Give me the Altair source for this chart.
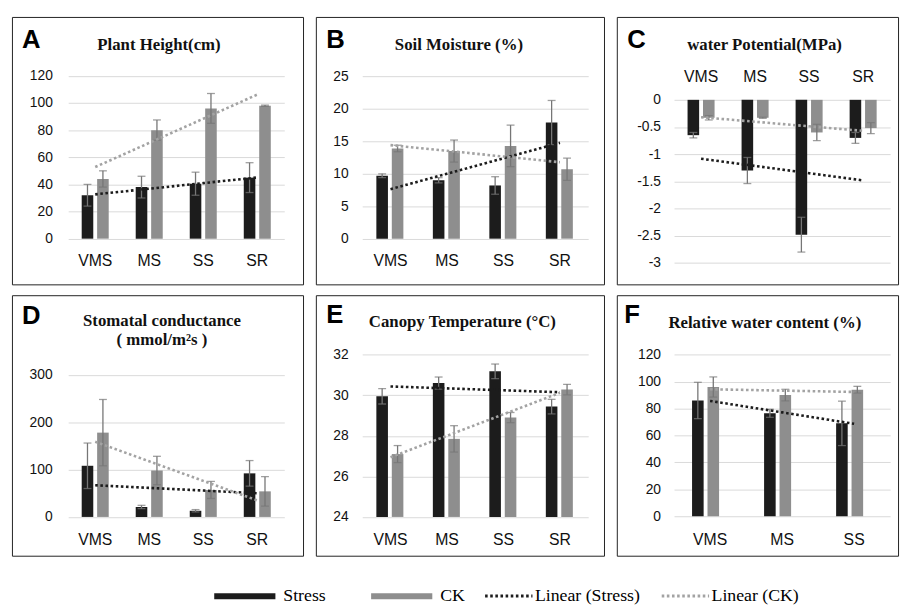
import altair as alt
import pandas as pd
import numpy as np

# ---------------- data ----------------
cats4 = ["VMS", "MS", "SS", "SR"]
cats3 = ["VMS", "MS", "SS"]

height_stress = [32, 38, 40.5, 45]
height_stress_err = [8, 8, 8.5, 11]
height_ck = [44, 80, 96, 98]
height_ck_err = [6, 7.5, 11, 0.5]

soil_stress = [9.7, 9.0, 8.2, 17.9]
soil_stress_err = [0.3, 0.4, 1.35, 3.4]
soil_ck = [13.9, 13.5, 14.3, 10.7]
soil_ck_err = [0.5, 1.7, 3.2, 1.7]

wp_stress = [-0.65, -1.30, -2.48, -0.70]
wp_stress_err = [0.05, 0.24, 0.32, 0.10]
wp_ck = [-0.33, -0.33, -0.60, -0.52]
wp_ck_err = [0.04, 0.01, 0.15, 0.10]

gs_stress = [108, 21, 13, 92]
gs_stress_err = [48, 3.5, 2.5, 27]
gs_ck = [178, 98, 57, 54]
gs_ck_err = [70, 30, 18, 31]

ct_stress = [29.95, 30.6, 31.18, 29.44]
ct_stress_err = [0.38, 0.3, 0.36, 0.36]
ct_ck = [27.1, 27.85, 28.9, 30.28]
ct_ck_err = [0.42, 0.65, 0.25, 0.26]

rwc_stress = [86, 76.5, 69]
rwc_stress_err = [13.5, 3, 16.5]
rwc_ck = [96, 90, 94]
rwc_ck_err = [7.5, 4.3, 2.5]

bar_items = ["Stress", "CK"]
trend_items = ["Linear (Stress)", "Linear (CK)"]

# ---------------- styles ----------------
SANS = "Liberation Sans"
SERIF = "Liberation Serif"
C_STRESS = "#1c1c1c"
C_CK = "#8e8e8e"
C_TREND_CK = "#a3a3a3"
C_ERR = "#767676"
GRID = "#d9d9d9"


def bar_df(cats, s, se, c, ce):
    rows = []
    for i, cat in enumerate(cats):
        rows.append(dict(cat=cat, grp="Stress", val=s[i], lo=s[i] - se[i], hi=s[i] + se[i]))
        rows.append(dict(cat=cat, grp="CK", val=c[i], lo=c[i] - ce[i], hi=c[i] + ce[i]))
    return pd.DataFrame(rows)


def trend_df(cats, vals):
    idx = np.arange(1, len(cats) + 1)
    k, b = np.polyfit(idx, vals, 1)
    return pd.DataFrame({"cat": cats, "val": k * idx + b})


def panel(cats, s, se, c, ce, w, h, xr, yr, dom, ticks, base, yoff, xoff,
          xorient, title, tx, ty, letter, lx, ly):
    df = bar_df(cats, s, se, c, ce)
    xaxis = alt.Axis(title=None, orient=xorient, offset=xoff, labelPadding=0,
                     ticks=False, tickSize=0, domain=False, grid=False,
                     labelAngle=0, labelFontSize=16, labelFont=SANS,
                     labelColor="#111", labelBaseline="alphabetic")
    x = alt.X("cat:N", sort=cats,
              scale=alt.Scale(range=xr, paddingInner=0.5, paddingOuter=0.25),
              axis=xaxis)
    yscale = alt.Scale(domain=dom, range=yr, nice=False, zero=False)
    yaxis = alt.Axis(title=None, values=ticks, offset=yoff, labelPadding=0,
                     ticks=False, tickSize=0, domain=False, grid=True,
                     gridColor=GRID, gridWidth=1, labelFontSize=14,
                     labelFont=SANS, labelColor="#111",
                     labelExpr="'' + datum.value")
    xo = alt.XOffset("grp:N", sort=["Stress", "CK"],
                     scale=alt.Scale(paddingInner=0.25))
    color = alt.condition("datum.grp == 'Stress'", alt.value(C_STRESS), alt.value(C_CK))

    bars = alt.Chart(df).mark_bar().encode(
        x=x, xOffset=xo,
        y=alt.Y("val:Q", scale=yscale, axis=yaxis),
        y2=alt.datum(base),
        color=color)
    rules = alt.Chart(df).mark_rule(color=C_ERR, strokeWidth=1.3).encode(
        x=x, xOffset=xo,
        y=alt.Y("lo:Q", scale=yscale, axis=yaxis), y2="hi:Q")
    cap_hi = alt.Chart(df).mark_tick(color=C_ERR, thickness=1.3, size=8).encode(
        x=x, xOffset=xo, y=alt.Y("hi:Q", scale=yscale, axis=yaxis))
    cap_lo = alt.Chart(df).mark_tick(color=C_ERR, thickness=1.3, size=8).encode(
        x=x, xOffset=xo, y=alt.Y("lo:Q", scale=yscale, axis=yaxis))
    tr_s = alt.Chart(trend_df(cats, s)).mark_line(
        color=C_STRESS, strokeWidth=2.6, strokeDash=[2.6, 2.6]).encode(
        x=x, y=alt.Y("val:Q", scale=yscale, axis=yaxis))
    tr_c = alt.Chart(trend_df(cats, c)).mark_line(
        color=C_TREND_CK, strokeWidth=2.6, strokeDash=[2.6, 2.6]).encode(
        x=x, y=alt.Y("val:Q", scale=yscale, axis=yaxis))
    one = pd.DataFrame({"k": [0]})
    ttl = alt.Chart(one).mark_text(
        text=title, font=SERIF, fontWeight="bold", fontSize=17,
        align="center", baseline="alphabetic", lineHeight=19, color="#111"
    ).encode(x=alt.value(tx), y=alt.value(ty))
    let = alt.Chart(one).mark_text(
        text=letter, font=SANS, fontWeight="bold", fontSize=26,
        align="left", baseline="alphabetic", color="#000"
    ).encode(x=alt.value(lx), y=alt.value(ly))
    return alt.layer(bars, rules, cap_hi, cap_lo, tr_s, tr_c, ttl, let).properties(
        width=w, height=h)


pA = panel(cats4, height_stress, height_stress_err, height_ck, height_ck_err,
           295, 271, [57, 276], [224.7, 59.7], [0, 120], [0, 20, 40, 60, 80, 100, 120],
           0, -41, -19, "bottom", "Plant Height(cm)", 149, 33, "A", 10.2, 31)
pB = panel(cats4, soil_stress, soil_stress_err, soil_ck, soil_ck_err,
           292, 271, [47, 276], [224.7, 60.3], [0, 25], [0, 5, 10, 15, 20, 25],
           0, -32.7, -19, "bottom", "Soil Moisture (%)", 145, 33, "B", 10.5, 31)
pC = panel(cats4, wp_stress, wp_stress_err, wp_ck, wp_ck_err,
           285, 271, [58, 277], [249.3, 84], [-3, 0],
           [0, -0.5, -1, -1.5, -2, -2.5, -3],
           0, -44.3, -65.3, "top", "water Potential(MPa)", 149.7, 33, "C", 10.5, 31)
pD = panel(cats4, gs_stress, gs_stress_err, gs_ck, gs_ck_err,
           295, 264, [57, 276], [224.7, 80.7], [0, 300], [0, 100, 200, 300],
           0, -40.7, -11.7, "bottom", ["Stomatal conductance", "( mmol/m²s )"],
           152, 31.3, "D", 10.2, 29.5)
pE = panel(cats4, ct_stress, ct_stress_err, ct_ck, ct_ck_err,
           292, 264, [47, 276], [224.7, 60.3], [24, 32], [24, 26, 28, 30, 32],
           24, -32.7, -11.7, "bottom", "Canopy Temperature (°C)", 148.5, 32.3, "E", 10.5, 28.5)
pF = panel(cats3, rwc_stress, rwc_stress_err, rwc_ck, rwc_ck_err,
           285, 264, [58, 277], [224, 60.3], [0, 120], [0, 20, 40, 60, 80, 100, 120],
           0, -44.3, -11.7, "bottom", "Relative water content (%)", 150, 33, "F", 7.5, 28.5)

# ---------------- legend (two legends, built from helper marks) ----------------
bar_leg_df = pd.DataFrame({"series": bar_items, "v": [0, 0]})
trend_leg_df = pd.DataFrame({"series2": trend_items, "v": [0, 0]})

leg_bars = alt.Legend(title=None, orient="none", legendX=202, legendY=553,
                      direction="horizontal", symbolType="stroke", symbolSize=3844,
                      symbolStrokeWidth=6, labelFont=SERIF, labelFontSize=18,
                      labelColor="#000", labelOffset=5, columnPadding=33, padding=0)
leg_trend = alt.Legend(title=None, orient="none", legendX=478, legendY=561,
                       direction="horizontal", symbolType="stroke", symbolSize=2304,
                       symbolStrokeWidth=3, labelFont=SERIF, labelFontSize=18,
                       labelColor="#000", labelOffset=1, columnPadding=15, padding=0)

helper_bars = alt.Chart(bar_leg_df).mark_line().encode(
    x=alt.X("v:Q", axis=None),
    y=alt.Y("v:Q", axis=None),
    color=alt.Color("series:N", sort=bar_items,
                    scale=alt.Scale(domain=bar_items, range=[C_STRESS, C_CK]),
                    legend=leg_bars),
)
helper_trend = alt.Chart(trend_leg_df).mark_line().encode(
    x=alt.X("v:Q", axis=None),
    y=alt.Y("v:Q", axis=None),
    stroke=alt.Stroke("series2:N", sort=trend_items,
                      scale=alt.Scale(domain=trend_items, range=[C_STRESS, C_TREND_CK]),
                      legend=leg_trend),
    strokeDash=alt.StrokeDash("series2:N", sort=trend_items,
                              scale=alt.Scale(domain=trend_items, range=[[2.6, 2.6], [2.6, 2.6]]),
                              legend=leg_trend),
)
helper = alt.layer(helper_bars, helper_trend).properties(
    width=880, height=1, view=alt.ViewBackground(stroke="transparent"))

row1 = alt.hconcat(pA, pB, pC, spacing=11)
row2 = alt.hconcat(pD, pE, pF, spacing=11)
chart = alt.vconcat(row1, row2, helper, spacing=9).properties(
    padding={"left": 3, "top": 4, "right": 2, "bottom": 2},
    background="white",
).configure_view(stroke="#222", strokeWidth=1)

chart.save("out.html", embed_options={"renderer": "svg", "actions": False})
